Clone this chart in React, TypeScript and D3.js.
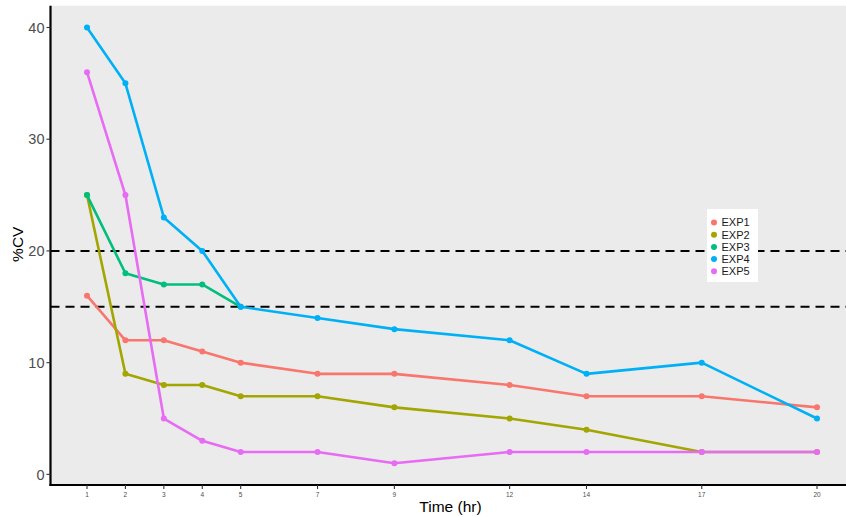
import React from "react";
import * as d3 from "d3";

const times = [1, 2, 3, 4, 5, 7, 9, 12, 14, 17, 20];
const exp1 = [16, 12, 12, 11, 10, 9, 9, 8, 7, 7, 6];
const exp2 = [25, 9, 8, 8, 7, 7, 6, 5, 4, 2, 2];
const exp3 = [25, 18, 17, 17, 15];
const exp4 = [40, 35, 23, 20, 15, 14, 13, 12, 9, 10, 5];
const exp5 = [36, 25, 5, 3, 2, 2, 1, 2, 2, 2, 2];
const seriesNames = ["EXP1", "EXP2", "EXP3", "EXP4", "EXP5"];
const seriesColors = ["#F8766D", "#A3A500", "#00BF7D", "#00B0F6", "#E76BF3"];
const yTicks = [0, 10, 20, 30, 40];
const hLines = [20, 15];

export default function App() {
  const W = 846, H = 517;
  const x = d3.scaleLinear().domain([0.05, 20.95]).range([50.5, 853.5]);
  const y = d3.scaleLinear().domain([-0.95, 41.95]).range([485, 5.7]);
  const all = [exp1, exp2, exp3, exp4, exp5];
  const line = d3.line<[number, number]>().x(d => x(d[0])).y(d => y(d[1]));
  const font = "'Liberation Sans', Arial, sans-serif";
  return (
    <svg width={W} height={H} style={{ position: "absolute", left: 0, top: 0 }} fontFamily={font}>
      <rect x={x(0.05)} y={y(41.95)} width={W - x(0.05)} height={y(-0.95) - y(41.95)} fill="#EBEBEB" />
      {hLines.map(v => (
        <line key={v} x1={x(0.05)} x2={W} y1={y(v)} y2={y(v)} stroke="#000" strokeWidth={2} strokeDasharray="9,6" />
      ))}
      {all.map((s, i) => {
        const pts: [number, number][] = s.map((v, j) => [times[j], v]);
        return (
          <g key={i}>
            <path d={line(pts) || ""} fill="none" stroke={seriesColors[i]} strokeWidth={2.6} strokeLinejoin="round" />
            {pts.map((p, j) => (
              <circle key={j} cx={x(p[0])} cy={y(p[1])} r={3} fill={seriesColors[i]} />
            ))}
          </g>
        );
      })}
      <line x1={x(0.05)} x2={x(0.05)} y1={y(41.95)} y2={y(-0.95) + 1} stroke="#000" strokeWidth={2.2} />
      <line x1={x(0.05) - 1} x2={W} y1={y(-0.95)} y2={y(-0.95)} stroke="#000" strokeWidth={2.2} />
      {yTicks.map(t => (
        <g key={t}>
          <line x1={x(0.05) - 4} x2={x(0.05)} y1={y(t)} y2={y(t)} stroke="#333" strokeWidth={1.1} />
          <text x={x(0.05) - 6} y={y(t)} dy="0.36em" textAnchor="end" fontSize={14.5} fill="#4D4D4D">{t}</text>
        </g>
      ))}
      {times.map(t => (
        <g key={t}>
          <line x1={x(t)} x2={x(t)} y1={y(-0.95)} y2={y(-0.95) + 4} stroke="#333" strokeWidth={1.1} />
          <text x={x(t)} y={y(-0.95) + 12} textAnchor="middle" fontSize={6.5} fill="#4D4D4D">{t}</text>
        </g>
      ))}
      <text x={450.5} y={512} textAnchor="middle" fontSize={15.5} fill="#000">Time (hr)</text>
      <text transform={`translate(23,${y(20.6)}) rotate(-90)`} textAnchor="middle" fontSize={15.5} fill="#000">%CV</text>
      <rect x={707} y={209} width={51} height={73} fill="#FFFFFF" />
      {seriesNames.map((n, i) => (
        <g key={n}>
          <circle cx={714} cy={222.5 + i * 12.2} r={3} fill={seriesColors[i]} />
          <text x={721.5} y={222.5 + i * 12.2} dy="0.36em" fontSize={11} fill="#1A1A1A">{n}</text>
        </g>
      ))}
    </svg>
  );
}
